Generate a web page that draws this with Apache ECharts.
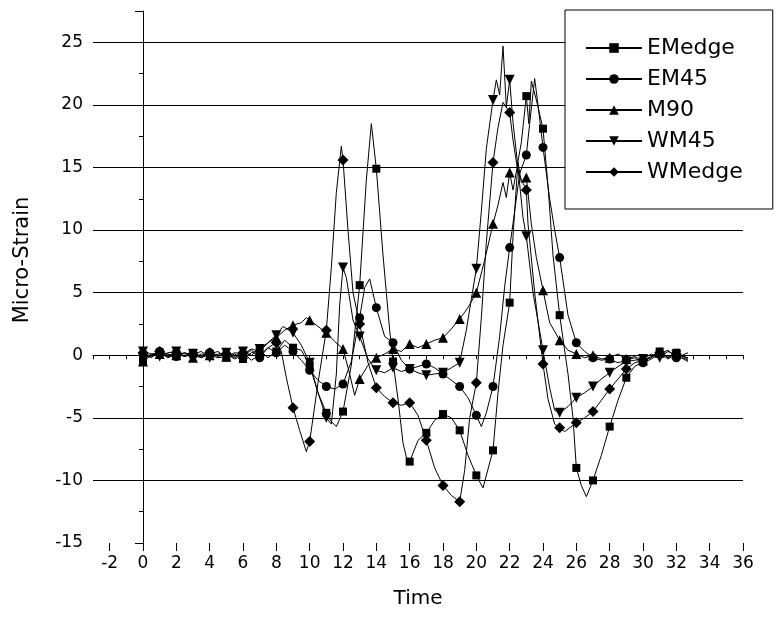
<!DOCTYPE html>
<html>
<head>
<meta charset="utf-8">
<script src="https://cdn.jsdelivr.net/npm/echarts@6/dist/echarts.min.js"></script>
<style>
  html, body { margin: 0; padding: 0; background: #fff; }
  #main { width: 775px; height: 622px; }
</style>
</head>
<body>
<div id="main"></div>
<script>
// series names, as in the legend
const seriesNames = ['EMedge', 'EM45', 'M90', 'WM45', 'WMedge'];

// [time, micro-strain]; markers sit on whole seconds
const emedge = [
  [0,-0.4],[0.5,0.1],[1,0.2],[1.5,-0.2],[2,0.1],[2.5,-0.1],[3,0.2],[3.5,-0.2],[4,0.1],[4.5,0.3],
  [5,-0.2],[5.5,0.1],[6,-0.3],[6.5,0.2],[7,0.4],[7.5,-0.2],[8,0.3],[8.5,1.2],[9,0.6],[9.5,0.4],
  [10,-0.8],[10.5,-3.0],[11,-4.6],[11.3,-5.3],[11.6,-5.7],[12,-4.5],[12.5,-0.8],[13,5.6],[13.4,14.0],
  [13.7,18.5],[14,14.9],[14.4,8.0],[14.8,2.0],[15,-0.5],[15.3,-3.5],[15.6,-7.0],[15.9,-8.7],[16,-8.5],
  [16.5,-6.8],[17,-6.2],[17.5,-5.2],[18,-4.7],[18.5,-5.0],[19,-6.0],[19.5,-8.0],[20,-9.6],[20.4,-10.6],
  [21,-7.6],[21.3,-3.0],[21.6,0.8],[22,4.2],[22.2,9.5],[22.5,15.5],[22.7,17.0],[23,20.7],[23.15,18.5],
  [23.3,21.9],[23.6,20.4],[24,18.1],[24.3,13.5],[24.6,8.0],[25,3.2],[25.5,-1.5],[25.8,-5.0],[26,-9.0],
  [26.3,-10.4],[26.6,-11.3],[27,-10.0],[27.5,-8.0],[28,-5.7],[28.5,-3.6],[29,-1.8],[29.5,-0.9],
  [30,-0.5],[30.5,-0.1],[31,0.3],[31.5,-0.2],[32,0.2],[32.7,-0.3]
];
const em45 = [
  [0,0.1],[0.5,-0.2],[1,0.3],[1.5,0.1],[2,-0.1],[2.5,0.2],[3,0.0],[3.5,-0.2],[4,0.2],[4.5,-0.1],
  [5,0.1],[5.5,-0.3],[6,0.0],[6.5,0.4],[7,-0.2],[7.5,0.6],[8,0.2],[8.5,0.8],[9,0.3],[9.5,-0.4],
  [10,-1.2],[10.5,-2.0],[11,-2.5],[11.5,-2.7],[12,-2.3],[12.5,-0.5],[13,3.0],[13.3,5.4],[13.6,6.1],
  [14,3.8],[14.5,1.5],[15,1.0],[15.5,-0.4],[16,-1.1],[16.5,-0.9],[17,-0.7],[17.5,-1.0],[18,-1.5],
  [18.5,-2.0],[19,-2.5],[19.5,-3.4],[20,-4.8],[20.3,-5.7],[20.6,-4.6],[21,-2.5],[21.4,1.5],[21.7,5.5],
  [22,8.6],[22.3,11.5],[22.6,14.5],[23,16.0],[23.2,18.5],[23.5,22.1],[23.7,20.0],[24,16.6],[24.4,12.5],
  [24.7,10.0],[25,7.8],[25.5,3.2],[26,1.0],[26.5,0.3],[27,-0.2],[27.5,-0.4],[28,-0.3],[28.5,-0.6],
  [29,-0.4],[29.5,-0.2],[30,-0.6],[30.5,-0.3],[31,0.1],[31.5,0.4],[32,-0.2],[32.7,0.2]
];
const m90 = [
  [0,-0.5],[0.5,0.0],[1,0.1],[1.5,-0.1],[2,0.0],[2.5,0.2],[3,-0.2],[3.5,0.1],[4,0.0],[4.5,-0.2],
  [5,-0.1],[5.5,0.2],[6,0.1],[6.5,0.5],[7,0.3],[7.5,1.0],[8,1.4],[8.5,2.0],[9,2.4],[9.5,2.6],
  [9.8,3.0],[10,2.8],[10.5,2.3],[11,1.8],[11.5,1.1],[12,0.5],[12.4,-1.5],[12.7,-3.2],[13,-1.9],
  [13.5,-0.8],[14,-0.2],[14.5,0.1],[15,0.5],[15.5,0.3],[16,0.9],[16.5,0.6],[17,0.9],[17.5,1.2],
  [18,1.4],[18.5,2.1],[19,2.9],[19.5,3.8],[20,5.0],[20.5,7.6],[21,10.5],[21.3,12.0],[21.6,13.8],
  [21.8,12.6],[22,14.6],[22.2,13.2],[22.5,15.4],[22.7,13.8],[23,14.2],[23.3,10.5],[23.6,7.8],[24,5.2],
  [24.4,2.6],[25,1.2],[25.5,0.4],[26,0.1],[26.5,-0.2],[27,0.0],[27.5,-0.3],[28,-0.2],[28.5,0.1],
  [29,-0.3],[29.5,-0.1],[30,-0.4],[30.5,-0.2],[31,0.2],[31.5,-0.1],[32,0.1],[32.7,-0.4]
];
const wm45 = [
  [0,0.3],[0.5,0.1],[1,-0.1],[1.5,0.2],[2,0.3],[2.5,-0.1],[3,0.1],[3.5,0.3],[4,-0.2],[4.5,0.1],
  [5,0.2],[5.5,-0.1],[6,0.3],[6.5,0.0],[7,0.5],[7.5,1.0],[8,1.6],[8.4,2.3],[9,1.8],[9.5,0.8],
  [10,-0.6],[10.5,-3.0],[11,-5.0],[11.3,-5.5],[11.6,-1.5],[11.8,4.0],[12,7.0],[12.2,6.2],[12.6,2.8],
  [13,1.5],[13.5,-0.3],[14,-1.2],[14.5,-1.4],[15,-1.0],[15.5,-1.3],[16,-1.1],[16.5,-1.4],[17,-1.6],
  [17.5,-1.5],[18,-1.4],[18.5,-1.0],[19,-0.6],[19.4,2.0],[19.7,4.5],[20,6.9],[20.3,11.5],[20.6,16.5],
  [21,20.4],[21.2,22.0],[21.4,20.8],[21.6,24.7],[21.8,19.8],[22,22.0],[22.2,18.6],[22.5,15.0],
  [22.8,11.0],[23,9.5],[23.4,5.0],[24,0.4],[24.4,-2.6],[24.7,-4.4],[25,-4.6],[25.5,-4.1],[26,-3.4],
  [26.5,-3.0],[27,-2.5],[27.5,-1.9],[28,-1.4],[28.5,-0.9],[29,-0.5],[29.5,-0.4],[30,-0.3],[30.5,0.1],
  [31,-0.2],[31.5,0.3],[32,0.0],[32.7,-0.5]
];
const wmedge = [
  [0,0.2],[0.5,-0.1],[1,0.3],[1.5,0.0],[2,0.2],[2.5,0.1],[3,0.1],[3.5,-0.1],[4,0.2],[4.5,0.0],
  [5,0.1],[5.5,-0.2],[6,0.2],[6.5,-0.4],[7,0.0],[7.5,0.6],[8,1.0],[8.3,0.3],[8.6,-1.8],[9,-4.2],
  [9.4,-6.0],[9.8,-7.7],[10,-6.9],[10.5,-2.2],[11,2.0],[11.3,7.0],[11.6,13.0],[11.9,16.7],[12,15.6],
  [12.3,10.0],[12.6,5.0],[13,2.5],[13.5,-0.6],[14,-2.6],[14.5,-3.3],[15,-3.8],[15.5,-4.0],[16,-3.8],
  [16.5,-4.8],[17,-6.8],[17.5,-9.0],[18,-10.4],[18.5,-11.2],[19,-11.7],[19.3,-9.2],[19.6,-5.0],
  [20,-2.2],[20.3,3.0],[20.6,9.0],[21,15.4],[21.3,18.2],[21.6,20.2],[22,19.4],[22.2,17.2],[22.5,14.6],
  [23,13.2],[23.1,10.5],[23.5,5.0],[24,-0.7],[24.3,-3.5],[24.7,-5.5],[25,-5.8],[25.3,-6.1],[25.6,-5.8],
  [26,-5.4],[26.5,-5.0],[27,-4.5],[27.5,-3.6],[28,-2.7],[28.5,-1.9],[29,-1.1],[29.5,-0.6],[30,-0.4],
  [30.5,-0.1],[31,0.2],[31.5,-0.3],[32,0.1],[32.7,-0.2]
];

// tick labels
const xLabels = [-2,0,2,4,6,8,10,12,14,16,18,20,22,24,26,28,30,32,34,36];
const yLabels = [-15,-10,-5,0,5,10,15,20,25];

const allData = [emedge, em45, m90, wm45, wmedge];
const shapes = [['rect', 8, 0], ['circle', 9, 0], ['triangle', 10, 0], ['triangle', 10, 180], ['diamond', 11, 0]];
const font = 'DejaVu Sans';
const black = '#000';

// only whole-second points get a marker
function withMarks(points) {
    return points.map(function (p) {
        return Number.isInteger(p[0]) ? p : { value: p, symbol: 'none' };
    });
}

const myChart = echarts.init(document.getElementById('main'));

const option = {
    animation: false,
    backgroundColor: '#fff',
    grid: { left: 93, right: 32, top: 11, bottom: 79, outerBoundsMode: 'none' },

    legend: {
        orient: 'vertical',
        left: 565,
        top: 10,
        padding: [27, 30, 26, 20],
        itemGap: 9,
        itemWidth: 56,
        itemHeight: 12,
        borderColor: black,
        borderWidth: 1,
        backgroundColor: '#fff',
        textStyle: { fontFamily: font, fontSize: 22, color: black, lineHeight: 22 },
        data: seriesNames
    },

    xAxis: [{
        type: 'value', min: -3, max: 36, interval: 1,
        name: 'Time', nameLocation: 'middle', nameGap: 46,
        nameTextStyle: { fontFamily: font, fontSize: 20, color: black },
        axisLine: { show: true, lineStyle: { color: black, width: 1 } },
        axisTick: { show: true, length: 4, lineStyle: { color: black } },
        axisLabel: { customValues: xLabels, fontFamily: font, fontSize: 17, color: black, margin: 12 },
        splitLine: { show: false }
    }, {
        // longer ticks under the labelled values
        type: 'value', min: -3, max: 36, position: 'bottom',
        axisLine: { show: false },
        axisTick: { show: true, customValues: xLabels, length: 8, lineStyle: { color: black } },
        axisLabel: { show: false },
        splitLine: { show: false }
    }],

    yAxis: {
        type: 'value', min: -15, max: 27.5, interval: 5,
        name: 'Micro-Strain', nameLocation: 'middle', nameGap: 60,
        nameTextStyle: { fontFamily: font, fontSize: 21, color: black, padding: [0, 0, 0, 34] },
        axisLine: { show: true, lineStyle: { color: black, width: 1 } },
        axisTick: { show: true, length: 8, lineStyle: { color: black } },
        minorTick: { show: true, splitNumber: 2, length: 4, lineStyle: { color: black } },
        axisLabel: { customValues: yLabels, fontFamily: font, fontSize: 17, color: black, margin: 10 },
        splitLine: { show: true, showMinLine: false, showMaxLine: false, lineStyle: { color: black, width: 1 } }
    },

    series: seriesNames.map(function (name, i) {
        return {
            name: name,
            type: 'line',
            xAxisIndex: 0,
            data: withMarks(allData[i]),
            symbol: shapes[i][0],
            symbolSize: shapes[i][1],
            symbolRotate: shapes[i][2],
            showAllSymbol: true,
            lineStyle: { color: black, width: 1 },
            itemStyle: { color: black },
            silent: true
        };
    })
};

myChart.setOption(option);
</script>
</body>
</html>
